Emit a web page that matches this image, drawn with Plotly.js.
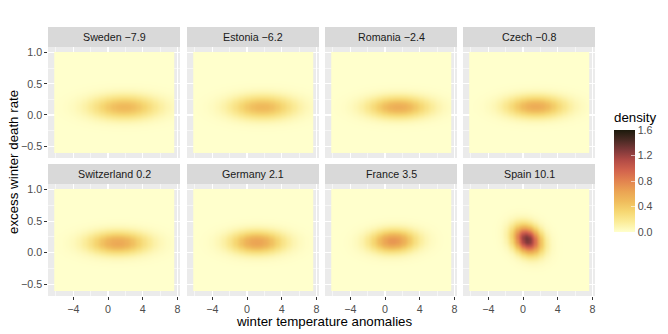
<!DOCTYPE html>
<html>
<head>
<meta charset="utf-8">
<script src="https://cdn.plot.ly/plotly-3.0.1.min.js"></script>
<style>html,body{margin:0;padding:0;background:#fff;}#chart{width:668px;height:334px;}</style>
</head>
<body>
<div id="chart"></div>
<script>
// ---- data ----
const countries   = ["Sweden", "Estonia", "Romania", "Czech", "Switzerland", "Germany", "France", "Spain"];
const tempLabels  = ["\u22127.9", "\u22126.2", "\u22122.4", "\u22120.8", "0.2", "2.1", "3.5", "10.1"];
const peakDensity = [0.50, 0.50, 0.57, 0.58, 0.60, 0.63, 0.70, 1.30];
const modeX       = [1.8, 1.7, 1.5, 1.4, 1.1, 1.1, 0.9, 0.45];
const modeY       = [0.13, 0.13, 0.13, 0.14, 0.16, 0.17, 0.19, 0.21];
const spreadX     = [2.6, 2.5, 2.4, 2.3, 2.3, 2.1, 1.8, 1.1];
const spreadY     = [0.13, 0.13, 0.12, 0.12, 0.12, 0.12, 0.12, 0.15];
const corrXY      = [0, 0, 0, 0, 0, 0, 0.05, -0.22];
const gridX = [-6.2, 7.65];       // extent of density grid (temperature anomalies)
const gridY = [-0.61, 1.01];      // extent of density grid (excess winter death rate)
const xTickVals = [-4, 0, 4, 8];
const xTickText = ["\u22124", "0", "4", "8"];
const yTickVals = [-0.5, 0, 0.5, 1.0];
const yTickText = ["\u22120.5", "0.0", "0.5", "1.0"];
const cbTickVals = [0, 0.4, 0.8, 1.2, 1.6];
const cbTickText = ["0.0", "0.4", "0.8", "1.2", "1.6"];

// ---- layout constants (pixels) ----
const W = 668, H = 334;
const colLeft = [48, 187, 325, 463], panelW = 132;
const rowTop = [47, 184], rowBot = [158, 296], stripH = 20;
const FONT = "Liberation Sans, Arial, Helvetica, sans-serif";

const lajolla = [
  [0.00, "#FFFFCC"], [0.10, "#FBEC98"], [0.20, "#F6D772"], [0.30, "#F0BC5C"],
  [0.40, "#EBA353"], [0.50, "#E2834F"], [0.60, "#D3644D"], [0.70, "#B44C46"],
  [0.80, "#80393A"], [0.90, "#4A2A24"], [1.00, "#1C1A0C"]
];

const N = 100;
const xs = [], ys = [];
const dx = (gridX[1] - gridX[0]) / N, dy = (gridY[1] - gridY[0]) / N;
for (let i = 0; i < N; i++) { xs.push(gridX[0] + dx * (i + 0.5)); ys.push(gridY[0] + dy * (i + 0.5)); }

const traces = [], shapes = [], annotations = [];
const layout = {
  width: W, height: H, margin: {l: 0, r: 0, t: 0, b: 0},
  paper_bgcolor: "#FFFFFF", plot_bgcolor: "#EBEBEB",
  font: {family: FONT, color: "#4D4D4D"},
  showlegend: false,
  coloraxis: {
    colorscale: lajolla, cmin: 0, cmax: 1.6,
    colorbar: {
      x: 614 / W, xanchor: "left", xpad: 0,
      y: (H - 130) / H, yanchor: "top", ypad: 0,
      len: 102, lenmode: "pixels", thickness: 21, thicknessmode: "pixels",
      outlinewidth: 0,
      tickvals: cbTickVals, ticktext: cbTickText,
      ticks: "inside", ticklen: 4, tickcolor: "rgba(255,255,255,0.6)", tickwidth: 1,
      tickfont: {size: 10.7, color: "#4D4D4D", family: FONT}
    }
  }
};

for (let k = 0; k < countries.length; k++) {
  const r = Math.floor(k / 4), c = k % 4;
  const z = [];
  const rho = corrXY[k], sx = spreadX[k], sy = spreadY[k];
  for (let j = 0; j < N; j++) {
    const row = [];
    for (let i = 0; i < N; i++) {
      const u = (xs[i] - modeX[k]) / sx, v = (ys[j] - modeY[k]) / sy;
      const q = (u * u - 2 * rho * u * v + v * v) / (1 - rho * rho);
      row.push(peakDensity[k] * Math.exp(-0.5 * q));
    }
    z.push(row);
  }
  const sfx = k === 0 ? "" : String(k + 1);
  traces.push({type: "heatmap", x: xs, y: ys, z: z, coloraxis: "coloraxis",
    xaxis: "x" + sfx, yaxis: "y" + sfx, zsmooth: "best", hoverinfo: "skip"});

  const x0 = colLeft[c] / W, x1 = (colLeft[c] + panelW) / W;
  const y0 = (H - rowBot[r]) / H, y1 = (H - rowTop[r]) / H;
  const bottomRow = r === 1, leftCol = c === 0;
  layout["xaxis" + sfx] = {
    domain: [x0, x1], anchor: "y" + sfx, range: [-6.92, 8.3],
    tickvals: xTickVals, ticktext: xTickText, showticklabels: bottomRow,
    ticks: bottomRow ? "outside" : "", ticklen: 2.7, tickwidth: 1, tickcolor: "#333333",
    tickfont: {size: 10.7, color: "#4D4D4D", family: FONT},
    showgrid: true, gridcolor: "#FFFFFF", gridwidth: 1.07, zeroline: false, showline: false,
    minor: {tickvals: [-6, -2, 2, 6], showgrid: true, gridcolor: "#FFFFFF", gridwidth: 0.53, ticks: ""},
    fixedrange: true
  };
  layout["yaxis" + sfx] = {
    domain: [y0, y1], anchor: "x" + sfx, range: [-0.69, 1.09],
    tickvals: yTickVals, ticktext: yTickText, showticklabels: leftCol,
    ticks: leftCol ? "outside" : "", ticklen: 2.7, tickwidth: 1, tickcolor: "#333333",
    tickfont: {size: 10.7, color: "#4D4D4D", family: FONT},
    showgrid: true, gridcolor: "#FFFFFF", gridwidth: 1.07, zeroline: false, showline: false,
    minor: {tickvals: [-0.25, 0.25, 0.75], showgrid: true, gridcolor: "#FFFFFF", gridwidth: 0.53, ticks: ""},
    fixedrange: true
  };
  // strip
  shapes.push({type: "rect", xref: "paper", yref: "paper", x0: x0, x1: x1,
    y0: y1, y1: (H - rowTop[r] + stripH) / H, fillcolor: "#D9D9D9", line: {width: 0}, layer: "below"});
  annotations.push({xref: "paper", yref: "paper", x: (x0 + x1) / 2, y: (H - rowTop[r] + stripH / 2) / H,
    text: countries[k] + " " + tempLabels[k], showarrow: false, xanchor: "center", yanchor: "middle",
    font: {size: 10.7, color: "#1A1A1A", family: FONT}});
}

annotations.push({xref: "paper", yref: "paper", x: 324 / W, y: (H - 321) / H,
  text: "winter temperature anomalies", showarrow: false, xanchor: "center", yanchor: "middle",
  font: {size: 13.3, color: "#000000", family: FONT}});
annotations.push({xref: "paper", yref: "paper", x: 13 / W, y: (H - 162) / H, textangle: -90,
  text: "excess winter death rate", showarrow: false, xanchor: "center", yanchor: "middle",
  font: {size: 13.3, color: "#000000", family: FONT}});
annotations.push({xref: "paper", yref: "paper", x: 612 / W, y: (H - 117) / H,
  text: "density", showarrow: false, xanchor: "left", yanchor: "middle",
  font: {size: 13.3, color: "#000000", family: FONT}});

layout.shapes = shapes;
layout.annotations = annotations;

Plotly.newPlot("chart", traces, layout, {displayModeBar: false, staticPlot: true});
</script>
</body>
</html>
